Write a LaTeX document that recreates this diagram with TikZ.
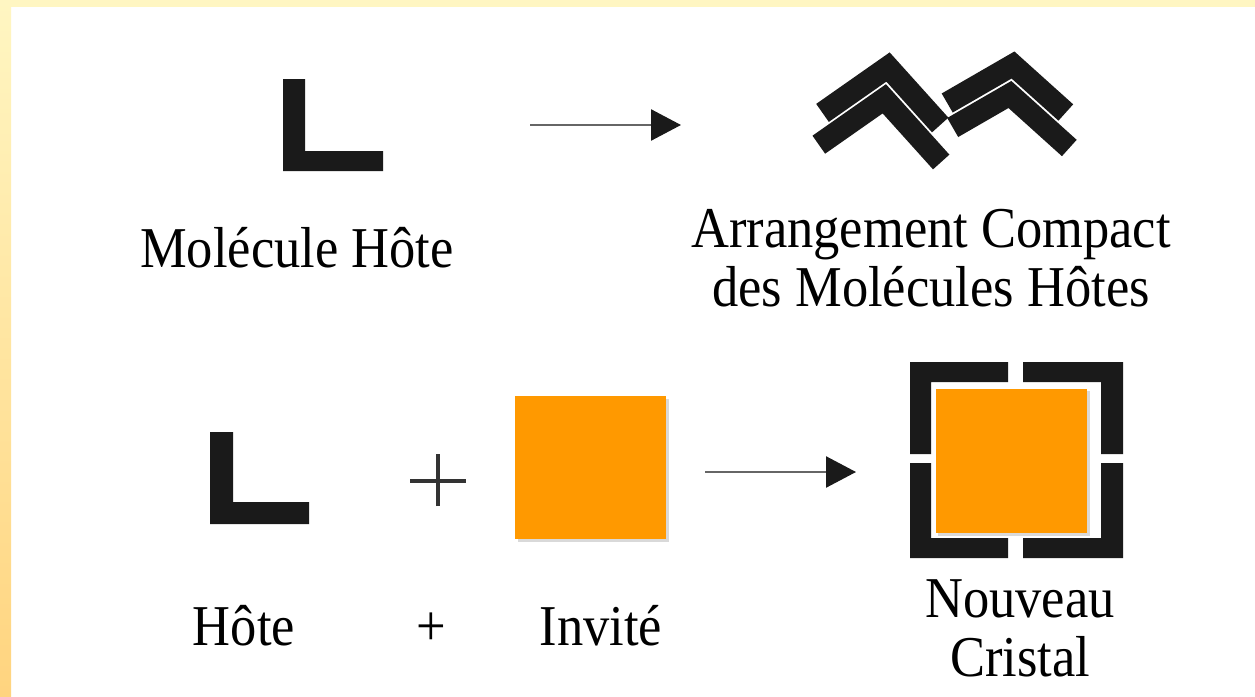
\documentclass[tikz,border=0pt]{standalone}
\usepackage{fontspec}
\setmainfont{Liberation Serif}
\usetikzlibrary{arrows.meta}
\definecolor{yelTop}{HTML}{FFF6C2}
\definecolor{yelBot}{HTML}{FFD47F}
\definecolor{guest}{HTML}{FF9900}
\definecolor{ink}{HTML}{1A1A1A}
\tikzset{
  lbl/.style={inner sep=0pt, anchor=base, font=\fontsize{52.5}{54}\selectfont},
  hostshape/.style={fill=ink, draw=none},
  chev/.style={draw=ink, line width=22pt, miter limit=10, line join=miter, line cap=butt},
  guestbox/.style={fill=guest, draw=none},
  shadow/.style={fill=black!15, draw=none},
  arr/.style={draw=black!60, line width=2.5pt, -{Triangle[length=30pt,width=31pt,color=ink]}},
  plus/.style={draw=black!80, line width=3.5pt}
}
\newcommand{\stretchtxt}[1]{\scalebox{1}[1.1]{#1}}
\begin{document}
\begin{tikzpicture}[x=1pt,y=-1pt]
\useasboundingbox (0,0) rectangle (1255,696);
% background
\fill[white] (0,0) rectangle (1255,696);
\fill[yelTop] (0,0) rectangle (1255,7);
\shade[top color=yelTop, bottom color=yelBot] (0,0) rectangle (11,696);

% ---- top row ----
\fill[hostshape] (283,79) -- (305,79) -- (305,151) -- (383,151) -- (383,171) -- (283,171) -- cycle;
\node[lbl] (molhote) at (297,267) {\stretchtxt{Molécule Hôte}};

\coordinate (a1s) at (530,125);
\coordinate (a1e) at (681,125);
\draw[arr] (a1s) -- (a1e);

% compact arrangement of host molecules
\draw[chev] (822.5,112.9) -- (888,67) -- (940.2,125);
\draw[chev] (818.8,144.7) -- (884.3,98.8) -- (941.2,162);
\draw[chev] (947.2,103) -- (1013,65) -- (1065.8,112.5);
\draw[chev] (952.7,127.5) -- (1009.9,94.5) -- (1069.3,148);

\node[lbl] (arrang) at (931,247) {\stretchtxt{\begin{tabular}[t]{@{}c@{}}Arrangement Compact\\des Molécules Hôtes\end{tabular}}};

% ---- bottom row ----
\fill[hostshape] (210,432) -- (233,432) -- (233,502) -- (309,502) -- (309,524) -- (210,524) -- cycle;

\coordinate (pc) at (438,481);
\draw[plus] ([xshift=-28pt]pc) -- ([xshift=28pt]pc);
\draw[plus] ([yshift=-25pt]pc) -- ([yshift=27pt]pc);

\fill[shadow] (518,399) rectangle (669,542);
\fill[guestbox] (515,396) rectangle (666,539);

\coordinate (a2s) at (705,472);
\coordinate (a2e) at (856,472);
\draw[arr] (a2s) -- (a2e);

% new crystal
\fill[hostshape] (910,362) -- (1008,362) -- (1008,382) -- (931,382) -- (931,454) -- (910,454) -- cycle;
\fill[hostshape] (1023,362) -- (1123,362) -- (1123,454) -- (1101,454) -- (1101,382) -- (1023,382) -- cycle;
\fill[hostshape] (910,463) -- (931,463) -- (931,538) -- (1008,538) -- (1008,558) -- (910,558) -- cycle;
\fill[hostshape] (1101,463) -- (1123,463) -- (1123,558) -- (1023,558) -- (1023,538) -- (1101,538) -- cycle;
\fill[shadow] (938,391) rectangle (1090,536);
\fill[guestbox] (936,389) rectangle (1087,533);

\node[lbl] (hote) at (244,645) {\stretchtxt{Hôte}};
\node[lbl] (plustxt) at (431,645) {\stretchtxt{+}};
\node[lbl] (invite) at (601,645) {\stretchtxt{Invité}};
\node[lbl] (nouveau) at (1020,617) {\stretchtxt{\begin{tabular}[t]{@{}c@{}}Nouveau\\Cristal\end{tabular}}};
\end{tikzpicture}
\end{document}
